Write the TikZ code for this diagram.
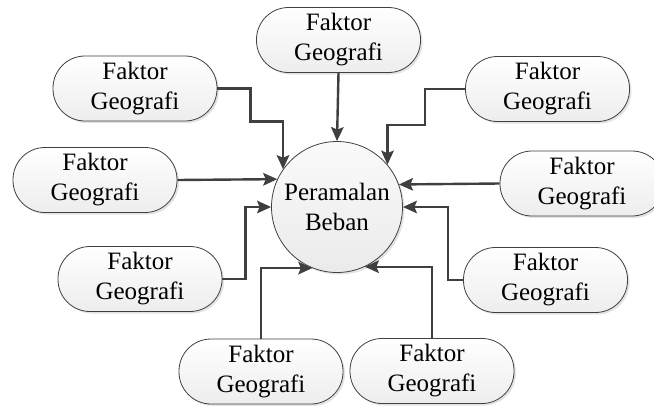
\documentclass[tikz,border=0pt]{standalone}
\usepackage{fontspec}
\setmainfont{Liberation Serif}
\usetikzlibrary{arrows.meta,shadows}

\definecolor{edgegray}{HTML}{404040}
\definecolor{linegray}{HTML}{3F3F3F}

\tikzset{
  factor/.style={
    rectangle, rounded corners=32pt, draw=edgegray, line width=0.8pt,
    top color=white, bottom color=gray!14,
    minimum width=164pt, minimum height=65pt, inner sep=0pt,
    align=center, font=\fontsize{25}{30}\selectfont,
    drop shadow={shadow xshift=2pt, shadow yshift=-2pt, opacity=0.22}
  },
  hub/.style={
    circle, draw=edgegray, line width=0.8pt,
    top color=white!96!gray, bottom color=gray!16,
    minimum size=131pt, inner sep=0pt,
    align=center, font=\fontsize{25}{30}\selectfont,
    drop shadow={shadow xshift=2pt, shadow yshift=-2pt, opacity=0.22}
  },
  feed/.style={
    draw=linegray, line width=2.4pt,
    -{Stealth[length=14pt,width=12.5pt,inset=2.5pt]}
  }
}

\begin{document}
\begin{tikzpicture}[x=1pt,y=-1pt]
  \useasboundingbox (0,0) rectangle (654,405);

  % central node
  \node[hub] (c) at (337,207) {Peramalan\\Beban};

  % surrounding factor nodes
  \node[factor] (t)  at (338.5,40)  {Faktor\\Geografi};
  \node[factor] (ul) at (135,88.5)  {Faktor\\Geografi};
  \node[factor] (ur) at (547.5,89)  {Faktor\\Geografi};
  \node[factor] (l)  at (95,180)    {Faktor\\Geografi};
  \node[factor] (r)  at (582,183.5) {Faktor\\Geografi};
  \node[factor] (ll) at (140,279)   {Faktor\\Geografi};
  \node[factor] (lr) at (545.5,280) {Faktor\\Geografi};
  \node[factor] (bl) at (261,371.5) {Faktor\\Geografi};
  \node[factor] (br) at (432,371)   {Faktor\\Geografi};

  % connectors into the central node
  \draw[feed] (t.south) -- (c.north);
  \draw[feed] (ul.east) -| ++(33,33) -| (c.145.5);
  \draw[feed] (ur.west) -| ++(-40,36) -| (c.40.2);
  \draw[feed] (l.east) -- (c.155.7);
  \draw[feed] (r.west) -- (c.20.6);
  \draw[feed] (ll.east) -- ++(23,0) |- (c.west);
  \draw[feed] (lr.west) -- ++(-15,0) |- (c.east);
  \draw[feed] (bl.north) |- (c.248.6);
  \draw[feed] (br.north) |- (c.295.8);
\end{tikzpicture}
\end{document}
